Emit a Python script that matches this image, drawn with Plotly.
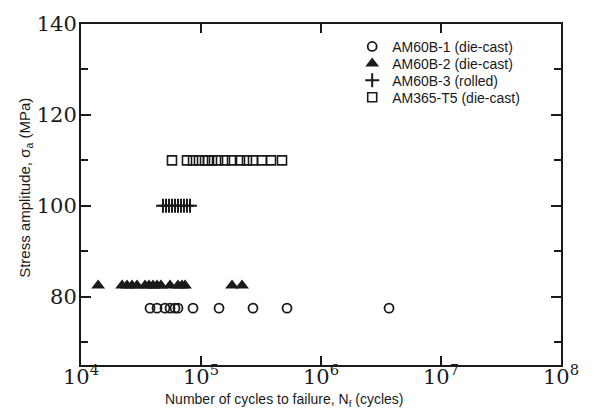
import plotly.graph_objects as go

# ---- data ----
am60b1_n = [37600, 43000, 50100, 55200, 60700, 64300, 85800, 141300, 271200, 521000, 3690000]
am60b1_s = [77.5] * len(am60b1_n)

am60b2_n = [13900, 22000, 24200, 26600, 29300, 34200, 36900, 39800, 43000, 46400,
            55200, 64300, 69500, 73600, 181300, 219700]
am60b2_s = [82.5] * len(am60b2_n)

am60b3_n = [48200, 51100, 54100, 57300, 60700, 64300, 68100, 72100, 76400, 81000]
am60b3_s = [100] * len(am60b3_n)

am365_n = [57300, 76400, 85800, 96200, 108000, 114400, 123500, 138600, 158500,
           181300, 211300, 241600, 271200, 322400, 383100, 473200]
am365_s = [110] * len(am365_n)

series_names = ["AM60B-1 (die-cast)", "AM60B-2 (die-cast)", "AM60B-3 (rolled)", "AM365-T5 (die-cast)"]

x_tickvals = [1e4, 1e5, 1e6, 1e7, 1e8]
x_ticktext = ["10<sup>4</sup>", "10<sup>5</sup>", "10<sup>6</sup>", "10<sup>7</sup>", "10<sup>8</sup>"]
y_tickvals = [80, 100, 120, 140]
y_minorvals = [70, 90, 110, 130]

ink = "#1a1a1a"
sans = "Liberation Sans"
serif = "DejaVu Serif"

fig = go.Figure()
fig.add_trace(go.Scatter(x=am60b1_n, y=am60b1_s, mode="markers", name=series_names[0], legend="legend",
                         marker=dict(symbol="circle-open", size=9, color=ink, line=dict(width=1.8, color=ink))))
fig.add_trace(go.Scatter(x=am60b2_n, y=am60b2_s, mode="markers", name=series_names[1], legend="legend2",
                         marker=dict(symbol="triangle-up", size=12, color=ink, line=dict(width=0))))
fig.add_trace(go.Scatter(x=am60b3_n, y=am60b3_s, mode="markers", name=series_names[2], legend="legend3",
                         marker=dict(symbol="cross-thin", size=10, color=ink, line=dict(width=2, color=ink))))
fig.add_trace(go.Scatter(x=am365_n, y=am365_s, mode="markers", name=series_names[3], legend="legend4",
                         marker=dict(symbol="square-open", size=9, color=ink, line=dict(width=1.6, color=ink))))

leg_common = dict(x=0.565, xanchor="left", yanchor="middle", bgcolor="rgba(0,0,0,0)",
                  font=dict(family=sans, size=14, color=ink), itemwidth=30)

fig.update_layout(
    width=594, height=410,
    margin=dict(l=81, r=33, t=22, b=45),
    paper_bgcolor="white", plot_bgcolor="white",
    font=dict(family=sans, color=ink),
    showlegend=True,
    legend=dict(y=0.933, **leg_common),
    legend2=dict(y=0.883, **leg_common),
    legend3=dict(y=0.834, **leg_common),
    legend4=dict(y=0.784, **leg_common),
    xaxis=dict(type="log", range=[4, 8], tickmode="array", tickvals=x_tickvals, ticktext=x_ticktext,
               showline=True, linecolor=ink, linewidth=2, mirror="allticks",
               ticks="inside", ticklen=9, tickwidth=2, tickcolor=ink,
               showgrid=False, zeroline=False, ticklabelstandoff=-8,
               tickfont=dict(family=serif, size=21, color=ink)),
    yaxis=dict(range=[65, 140], tickmode="array", tickvals=y_tickvals,
               showline=True, linecolor=ink, linewidth=2, mirror="allticks",
               ticks="inside", ticklen=10, tickwidth=2, tickcolor=ink,
               minor=dict(tickmode="array", tickvals=y_minorvals, ticks="inside", ticklen=7,
                          tickwidth=2, tickcolor=ink, showgrid=False),
               showgrid=False, zeroline=False, ticklabelstandoff=-2,
               tickfont=dict(family=serif, size=21, color=ink)),
    annotations=[
        dict(text="Number of cycles to failure, N<sub>f</sub> (cycles)", xref="paper", yref="paper",
             x=0.422, y=-0.104, xanchor="center", yanchor="middle", showarrow=False,
             font=dict(family=sans, size=14, color=ink)),
        dict(text="Stress amplitude, σ<sub>a</sub> (MPa)", xref="paper", yref="paper",
             x=-0.117, y=0.519, xanchor="center", yanchor="middle", showarrow=False, textangle=-90,
             font=dict(family=sans, size=15, color=ink)),
    ],
)

fig.write_html("out.html")
